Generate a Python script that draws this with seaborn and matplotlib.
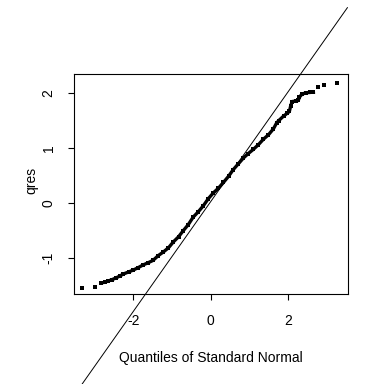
import matplotlib
matplotlib.use("Agg")
import matplotlib.pyplot as plt
import seaborn as sns
import pandas as pd
import numpy as np

# Theoretical normal quantiles (x) and sorted residuals (y)
theo_q = [-3.31, -2.98, -2.82, -2.74, -2.65, -2.55, -2.45, -2.35, -2.25, -2.12,
          -2.00, -1.87, -1.74, -1.61, -1.49, -1.35, -1.22, -1.09, -0.96, -0.83,
          -0.71, -0.58, -0.45, -0.32, -0.19, -0.06, 0.07, 0.20, 0.33, 0.46,
          0.58, 0.71, 0.84, 0.97, 1.10, 1.23, 1.36, 1.49, 1.62, 1.70,
          1.75, 1.88, 1.98, 2.03, 2.06, 2.10, 2.20, 2.26, 2.29, 2.35,
          2.45, 2.55, 2.65, 2.76, 2.93, 3.26]
qres = [-1.545, -1.527, -1.455, -1.436, -1.415, -1.39, -1.36, -1.325, -1.285, -1.25,
        -1.215, -1.17, -1.12, -1.08, -1.04, -0.95, -0.885, -0.81, -0.70, -0.61,
        -0.50, -0.39, -0.25, -0.155, -0.045, 0.085, 0.19, 0.275, 0.38, 0.49,
        0.61, 0.715, 0.82, 0.905, 0.98, 1.065, 1.165, 1.245, 1.355, 1.46,
        1.50, 1.585, 1.64, 1.67, 1.76, 1.85, 1.86, 1.87, 1.93, 1.98,
        2.01, 2.015, 2.02, 2.12, 2.15, 2.18]
# dense run of points (drawn as a continuous band): index range
dense_start, dense_end = 3, 53

# reference line
line_intercept = 0.03
line_slope = 1.0

x_ticks = [-2, 0, 2]
y_ticks = [-1, 0, 1, 2]
x_label = "Quantiles of Standard Normal"
y_label = "qres"

sns.set_style("ticks")
plt.rcParams["font.family"] = ["Liberation Sans", "DejaVu Sans"]

df = pd.DataFrame({"theo": theo_q, "qres": qres})
dense = df.iloc[dense_start:dense_end].reset_index(drop=True)

fig = plt.figure(figsize=(3.84, 3.84), dpi=100)
fig.patch.set_facecolor("white")
W = H = 384.0
ax = fig.add_axes([73.5 / W, 1 - 294 / H, (347.5 - 73.5) / W, (294 - 73.5) / H])
ax.set_facecolor("white")

sns.lineplot(data=dense, x="theo", y="qres", ax=ax, color="black", linewidth=2.4,
             sort=False, estimator=None, solid_capstyle="projecting")
sns.scatterplot(data=df, x="theo", y="qres", ax=ax, color="black", marker="s",
                s=8, linewidth=0)

ax.set_xlim(-3.54, 3.53)
ax.set_ylim(-1.65, 2.36)

xl = np.array(ax.get_xlim())
ax.plot(xl, line_intercept + line_slope * xl, color="black", linewidth=0.7,
        clip_on=False, zorder=3)

ax.set_xticks(x_ticks)
ax.set_yticks(y_ticks)
ax.set_xticklabels([str(t) for t in x_ticks])
ax.set_yticklabels([str(t) for t in y_ticks])
ax.tick_params(direction="out", length=4.3, width=0.8, colors="black", labelsize=10)
ax.tick_params(axis="x", pad=10.4)
ax.tick_params(axis="y", pad=8.5)
for lab in ax.get_yticklabels():
    lab.set_rotation(90)
    lab.set_va("center")

for sp in ax.spines.values():
    sp.set_visible(True)
    sp.set_color("black")
    sp.set_linewidth(0.8)

ax.set_xlabel(x_label, fontsize=10, color="black")
ax.set_ylabel(y_label, fontsize=10, color="black")
ax.xaxis.label.set_va("center")
ax.yaxis.label.set_va("center")
ax.xaxis.set_label_coords(0.5, -(358.3 - 294) / 220.5)
ax.yaxis.set_label_coords((31.7 - 73.5) / 274.0, (294 - 180) / 220.5)

fig.savefig("out.png", dpi=100, facecolor="white")
